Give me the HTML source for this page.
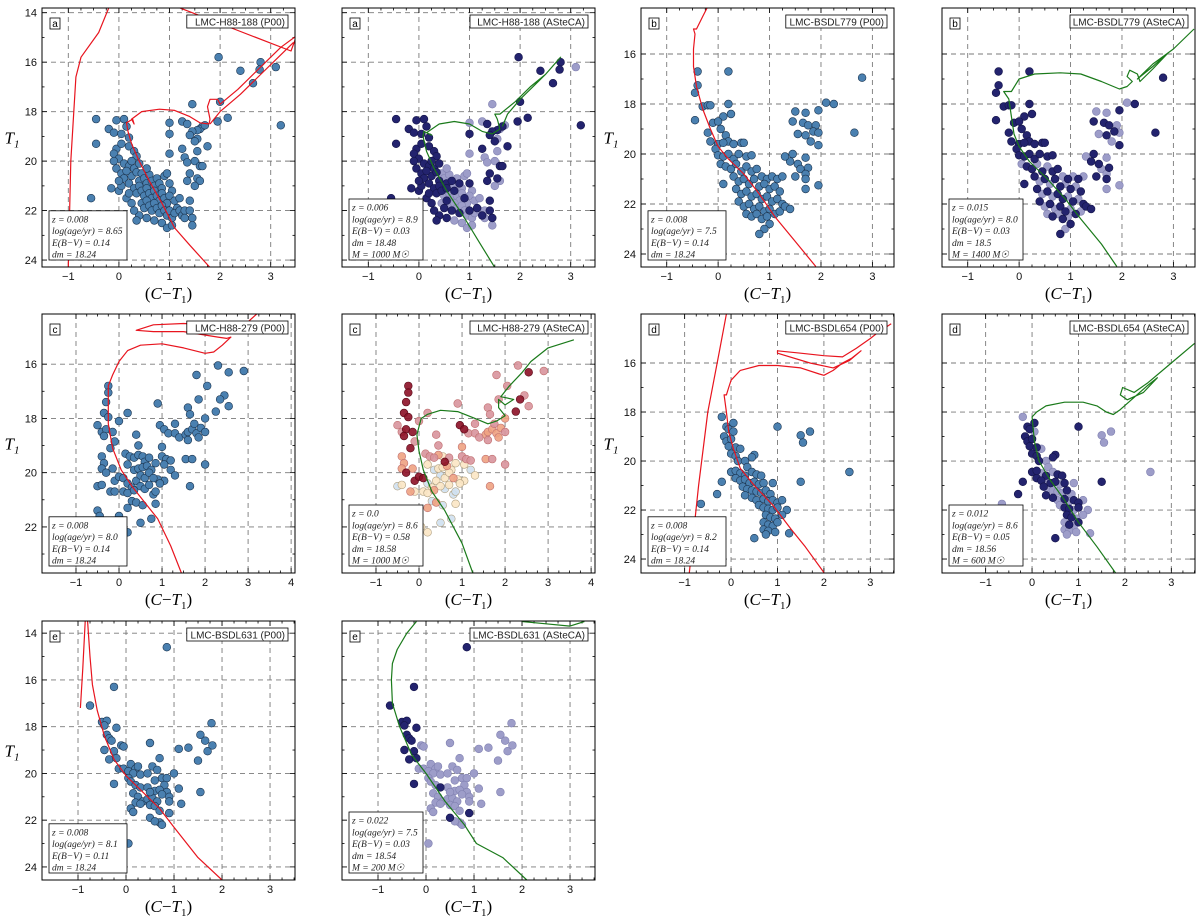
<!DOCTYPE html>
<html><head><meta charset="utf-8"><style>
html,body{margin:0;padding:0;background:#fff;}
svg{display:block;font-family:"Liberation Sans",sans-serif;}
</style></head><body>
<svg id="fig" width="1200" height="921" viewBox="0 0 1200 921" xmlns="http://www.w3.org/2000/svg"></svg>
<script>
// ---------- DATA ----------
const starsA=[[1.97,15.8],[2.4,16.35],[2.8,16.0],[2.78,16.3],[3.1,16.2],[2.65,16.85],[1.45,17.7],[2.0,17.6],[3.2,18.55],[2.15,18.25],[1.95,18.4],[1.65,18.6],[1.6,18.7],[1.55,18.75],[1.7,18.55],[1.45,18.8],[1.4,18.95],[1.25,18.4],[1.35,18.5],[1.0,18.45],[1.0,18.9],[1.55,19.1],[1.5,19.2],[1.55,19.6],[1.75,19.4],[1.25,19.5],[1.3,19.85],[1.5,20.0],[1.6,20.2],[1.65,20.2],[1.35,20.05],[1.0,19.7],[1.4,20.5],[1.55,20.7],[1.6,20.8],[1.35,20.8],[1.5,21.0],
[-0.45,18.3],[-0.2,18.7],[-0.05,18.35],[0.1,18.3],[0.15,18.6],[-0.1,18.85],[0.05,18.9],[0.2,19.05],[-0.45,19.3],[-0.05,19.5],[0.05,19.3],[0.2,19.4],[0.3,19.6],[0.35,19.8],[-0.1,19.7],[0.0,19.9],[0.1,20.1],[-0.05,20.3],[0.05,20.5],[0.2,20.2],
[0.1,20.7],[0.2,20.9],[0.25,20.6],[0.3,20.3],[0.35,20.45],[0.4,20.8],[0.45,20.5],[0.5,20.7],[0.55,20.9],[0.6,20.55],[0.65,20.8],[0.7,21.0],[0.75,20.7],[0.8,20.9],[0.85,21.1],[0.9,20.6],[0.95,20.5],[1.0,20.9],[1.05,21.2],[0.3,21.1],[0.35,21.3],[0.4,21.0],[0.45,21.2],[0.5,21.4],[0.55,21.1],[0.6,21.3],[0.65,21.5],[0.7,21.2],[0.75,21.4],[0.8,21.6],[0.85,21.3],[0.9,21.5],[0.95,21.7],[1.0,21.4],[1.1,21.6],[1.15,21.9],[0.45,21.7],[0.5,21.9],[0.55,21.6],[0.6,21.8],[0.65,22.0],[0.7,21.7],[0.75,21.9],[0.8,22.1],[0.85,21.8],[0.9,22.0],[0.95,22.2],[1.0,22.0],[1.05,22.3],[1.1,22.1],[1.2,22.0],[1.25,22.2],[1.3,22.0],[0.4,22.2],[0.55,22.3],[0.7,22.4],[0.85,22.5],[0.95,22.7],[1.05,22.6],[0.35,22.4],[0.15,21.5],[0.2,21.3],[0.0,21.2],[0.05,21.0],[-0.15,21.1],[-0.55,21.5],[-0.1,20.0],[0.0,20.8],[0.25,21.7],[0.3,22.0],[1.4,22.0],[1.45,22.3],[1.45,22.6],[1.4,21.6],[1.3,22.3],[1.2,21.5],[0.15,20.4],[0.25,20.0],[0.4,20.1],[0.55,20.3]];
const membA="1111010111110101101010101100110011010"+"11111111111111111111"+"1111110010100100010"+"11110100100010001"+"01101001000100010"+"1100001"+"1111111111"+"110100"+"1110";
const starsB=[[-0.45,18.65],[-0.4,16.7],[0.2,16.7],[-0.4,17.25],[-0.45,17.55],[2.8,16.95],[2.65,19.15],[-0.3,18.1],[-0.2,18.05],[-0.15,18.05],[-0.1,18.75],[-0.2,19.15],[-0.15,19.5],[0.2,18.0],[0.25,18.4],[0.1,18.5],[0.0,18.7],[0.05,19.0],[0.15,19.25],[0.2,19.5],[0.3,19.6],[0.45,19.55],[0.5,19.55],[0.0,19.6],[0.1,19.55],[-0.05,19.8],[0.0,20.05],[0.1,20.1],[0.2,20.0],[0.3,20.2],[0.4,20.0],[0.55,20.1],[0.65,20.05],[0.05,20.4],[0.15,20.5],[0.25,20.6],[0.35,20.4],[0.45,20.7],[0.55,20.5],[0.65,20.7],[0.75,20.6],[0.85,20.9],[0.95,21.0],[1.05,20.9],[1.15,21.0],[1.25,20.9],[0.1,21.2],[0.3,20.9],[0.4,21.1],[0.5,21.0],[0.6,21.2],[0.7,21.0],[0.8,21.3],[0.9,21.2],[1.0,21.4],[1.1,21.3],[1.2,21.5],[0.35,21.4],[0.45,21.6],[0.55,21.5],[0.65,21.7],[0.75,21.6],[0.85,21.8],[0.95,21.7],[1.05,21.9],[1.15,21.8],[1.25,22.0],[0.4,21.9],[0.5,22.1],[0.6,22.0],[0.7,22.2],[0.8,22.1],[0.9,22.3],[1.0,22.2],[1.1,22.4],[1.2,22.3],[1.3,22.1],[1.4,22.2],[0.55,22.4],[0.65,22.5],[0.75,22.4],[0.85,22.6],[0.95,22.5],[1.0,22.8],[0.9,23.0],[0.8,23.2],[1.5,18.3],[1.7,18.35],[1.45,18.7],[1.65,18.75],[1.75,18.85],[1.9,18.85],[1.95,18.25],[2.1,17.95],[2.25,18.0],[1.55,19.2],[1.7,19.25],[1.85,19.1],[1.95,19.15],[1.8,19.5],[1.95,19.65],[1.45,20.0],[1.7,20.15],[1.55,20.4],[1.4,20.3],[1.6,20.6],[1.75,20.55],[1.7,20.8],[1.5,20.9],[1.7,21.0],[1.7,21.4],[1.95,21.25],[1.3,20.1]];
const membB="11111111111111111111111111111111101101011010101101011010110101101011010110101101010101001110101011001101101011";
const starsC=[[2.3,16.05],[2.9,16.25],[2.55,16.3],[1.8,16.4],[2.05,16.8],[2.45,17.15],[2.35,17.3],[2.55,17.55],[1.85,17.3],[2.25,17.75],[1.6,17.6],[1.65,17.85],[0.9,17.45],[-0.25,16.8],[-0.25,17.05],[-0.3,17.4],[-0.35,17.8],[-0.25,17.95],[0.2,17.8],[0.0,18.1],[-0.5,18.25],[-0.4,18.5],[-0.3,18.4],[-0.35,18.65],[-0.15,18.5],[-0.2,19.1],[-0.1,18.85],[0.4,18.6],[0.45,19.0],[0.95,18.25],[1.05,18.4],[1.3,18.2],[1.15,18.55],[1.3,18.55],[1.4,18.7],[1.55,18.6],[1.6,18.5],[1.7,18.4],[1.8,18.55],[1.9,18.35],[2.0,18.0],[1.75,18.2],[1.6,18.8],[1.85,18.7],[2.0,18.5],[1.0,19.05],[1.0,19.4],[1.1,19.5],[1.2,19.55],[1.55,19.5],[1.7,19.5],[2.0,19.7],[1.65,20.5],[-0.4,19.4],[-0.35,19.65],[-0.4,19.85],[-0.3,20.0],[-0.15,19.85],[-0.1,20.3],[0.0,20.15],[0.1,20.2],[0.15,19.3],[0.25,19.4],[0.35,19.45],[0.45,19.35],[0.55,19.4],[0.6,19.6],[0.7,19.45],[0.2,19.7],[0.35,19.9],[0.45,19.85],[0.55,19.8],[0.65,19.75],[0.75,19.9],[0.85,19.65],[1.05,19.7],[1.2,19.9],[1.3,20.1],[1.05,20.3],[0.9,20.25],[0.2,20.4],[0.3,20.55],[0.4,20.3],[0.5,20.1],[0.6,20.2],[0.7,20.0],[0.8,20.2],[0.95,20.4],[0.1,20.7],[0.2,20.75],[0.35,20.65],[0.5,20.5],[0.6,20.6],[0.7,20.45],[0.8,20.8],[0.85,20.7],[-0.2,20.7],[-0.1,20.7],[-0.5,20.5],[-0.4,20.45],[0.3,21.05],[0.4,21.1],[0.55,21.2],[0.85,21.15],[0.2,21.3],[0.5,21.85],[0.75,21.7],[0.0,21.6],[-0.5,21.4],[-0.45,21.6],[0.05,22.0],[0.2,22.2]];
const heatC="3343334334333444443333444433344333322222233232333233222242444333214310112111011101101121112101002101020120031111222000101001";
const starsD=[[-0.2,18.2],[0.05,18.45],[1.0,18.6],[-0.1,18.6],[-0.05,18.7],[0.05,18.8],[1.5,18.95],[1.7,18.8],[1.55,19.25],[-0.15,19.0],[-0.1,19.2],[0.0,19.1],[-0.05,19.4],[0.1,19.45],[0.2,19.5],[0.0,19.7],[0.1,19.8],[0.15,20.0],[0.5,19.75],[0.45,19.85],[0.3,20.0],[0.35,20.25],[0.0,20.45],[0.1,20.4],[0.2,20.5],[0.3,20.6],[0.45,20.45],[0.55,20.55],[0.65,20.6],[0.1,20.7],[0.2,20.8],[0.3,20.75],[0.4,20.9],[0.5,20.85],[0.6,20.95],[0.7,20.9],[0.9,20.9],[-0.2,20.85],[1.5,20.85],[2.55,20.45],[0.25,21.05],[0.35,21.15],[0.45,21.2],[0.55,21.25],[0.65,21.3],[0.75,21.2],[0.85,21.35],[0.3,21.4],[0.45,21.5],[0.55,21.6],[0.7,21.55],[0.8,21.65],[0.9,21.6],[1.0,21.7],[1.1,21.6],[-0.3,21.35],[0.6,21.8],[0.7,21.9],[0.8,21.95],[0.9,22.0],[1.0,21.9],[1.2,22.0],[0.75,22.2],[0.85,22.3],[0.95,22.35],[1.1,22.2],[0.7,22.5],[0.8,22.6],[0.9,22.65],[1.0,22.5],[0.7,22.8],[0.8,22.85],[0.75,23.0],[0.95,22.9],[1.25,22.95],[0.5,23.15],[-0.65,21.75]];
const membD="0111100001111101111100110101111011010110100001011010110101101011000101000001";
const starsE=[[0.85,14.6],[-0.25,16.3],[-0.75,17.1],[-0.5,17.8],[-0.4,17.75],[-0.45,17.95],[-0.2,18.05],[-0.4,18.35],[-0.35,18.5],[-0.3,18.6],[-0.45,19.0],[-0.35,19.4],[-0.25,19.05],[-0.1,18.8],[-0.05,18.85],[0.5,18.7],[-0.2,19.35],[-0.15,19.8],[-0.05,19.8],[0.05,19.9],[0.1,19.6],[0.2,19.8],[0.15,20.0],[0.25,19.7],[0.3,20.05],[0.45,20.0],[0.55,19.7],[0.65,19.85],[0.7,19.35],[0.75,20.2],[0.85,20.2],[0.6,20.3],[0.8,20.5],[0.05,20.2],[0.1,20.35],[0.2,20.5],[-0.25,20.45],[0.3,20.6],[0.45,20.6],[0.6,20.75],[0.7,20.7],[0.85,20.8],[1.1,20.65],[0.15,20.85],[0.25,21.0],[0.35,21.2],[0.45,21.1],[0.55,21.05],[0.65,21.2],[0.75,20.9],[0.9,21.0],[0.2,21.25],[0.3,21.3],[0.5,21.35],[0.6,21.4],[0.9,21.2],[1.15,21.3],[0.1,21.5],[0.15,21.65],[0.7,21.6],[0.9,21.7],[0.5,21.9],[0.7,22.1],[0.75,22.2],[0.6,22.05],[0.05,23.0],[1.1,18.95],[1.3,18.9],[1.5,19.45],[1.55,18.35],[1.65,18.6],[1.7,19.05],[1.8,18.8],[1.78,17.85],[1.0,20.0],[1.55,20.8],[0.5,20.8]];
const membE="1111111111111000100000000000000000001100000000000000000000001100000000000000000";

const isoA1=[[[1.8,24.3],[1.4,23.4],[1.1,22.7],[0.85,21.7],[0.6,20.8],[0.4,20.0],[0.25,19.3],[0.18,18.8],[0.15,18.45],[0.27,18.3],[0.3,18.5],[0.25,18.3],[0.45,18.0],[0.8,17.9],[1.1,17.95],[1.4,18.2],[1.6,18.45],[1.78,18.5],[1.8,18.3],[1.75,17.8],[1.8,17.5],[1.95,17.5],[2.0,17.7],[2.35,17.1],[2.8,16.2],[3.2,15.4],[3.5,14.95]],[[1.8,18.5],[2.0,18.0],[2.4,17.3],[2.8,16.5],[3.1,15.9],[3.45,15.2]],[[1.2,13.8],[2.2,14.6],[3.4,15.55],[3.5,15.0]],[[-1.0,24.3],[-0.95,20.0],[-0.85,16.6],[-0.75,15.8],[-0.4,14.8],[-0.2,13.8]]];
const isoA2=[[[1.5,24.3],[1.2,23.3],[0.9,22.3],[0.55,21.2],[0.3,20.3],[0.15,19.6],[0.08,19.0],[0.1,18.8],[0.25,18.95],[0.15,18.85],[0.4,18.5],[0.7,18.4],[1.0,18.5],[1.25,18.8],[1.45,18.9],[1.6,18.7],[1.55,18.3],[1.5,18.1],[1.6,18.1],[1.9,17.6],[2.2,17.0],[2.5,16.5],[2.8,15.8],[2.5,16.5],[2.3,16.9],[2.0,17.5],[1.75,18.1],[1.65,18.6]]];
const isoB1=[[[1.9,24.5],[1.5,23.5],[1.1,22.5],[0.8,21.6],[0.5,20.8],[0.2,20.2],[0.0,19.7],[-0.15,19.0],[-0.3,18.2],[-0.42,17.3],[-0.48,16.5],[-0.48,15.8],[-0.45,15.2],[-0.48,15.0],[-0.42,15.0],[-0.3,14.5],[-0.2,14.1]]];
const isoB2=[[[1.9,24.5],[1.6,23.6],[1.2,22.6],[0.9,21.8],[0.55,21.0],[0.2,20.3],[0.0,19.7],[-0.1,19.2],[-0.15,18.5],[-0.2,17.8],[-0.3,17.5],[-0.15,17.5],[0.0,17.0],[0.3,16.8],[0.8,16.75],[1.2,16.8],[1.6,17.1],[1.95,17.4],[2.1,17.3],[2.2,17.1],[2.1,16.9],[2.15,16.65],[2.3,16.8],[2.35,17.1],[2.6,16.6],[2.9,15.95],[2.6,16.5],[2.3,17.0],[2.6,16.4],[3.0,15.8],[3.4,15.0]]];
const isoC1=[[[1.45,23.7],[1.2,22.7],[0.9,21.7],[0.6,21.1],[0.3,20.5],[0.05,19.9],[-0.15,19.1],[-0.25,18.2],[-0.25,17.3],[-0.25,16.8],[-0.15,16.4],[0.0,15.9],[0.2,15.5],[0.5,15.3],[1.0,15.25],[1.5,15.4],[2.0,15.6],[2.2,15.55],[2.4,15.3],[2.6,15.0],[2.5,15.05],[2.3,15.0],[1.5,14.8],[0.8,14.8],[0.4,14.75],[0.8,14.55],[1.5,14.5],[2.0,14.55],[2.5,14.8],[2.85,14.65],[3.2,14.15]]];
const isoC2=[[[1.25,23.7],[1.0,22.6],[0.6,21.4],[0.3,20.7],[0.1,19.9],[0.0,19.2],[-0.05,18.6],[0.05,18.0],[0.1,17.95],[0.2,17.85],[0.5,17.7],[0.9,17.75],[1.3,18.0],[1.6,18.2],[1.8,18.1],[2.0,17.9],[1.85,17.6],[1.85,17.3],[2.0,17.5],[2.2,17.3],[1.9,17.2],[2.1,16.8],[2.4,16.3],[2.6,15.9],[3.0,15.4],[3.6,15.1]]];
const isoD1=[[[2.0,24.55],[1.6,23.5],[1.3,22.8],[0.9,21.8],[0.5,21.0],[0.2,20.3],[0.05,19.5],[-0.05,18.8],[-0.1,18.0],[-0.15,17.3],[-0.1,17.3],[-0.05,17.0],[0.0,16.7],[0.2,16.3],[0.6,16.1],[1.0,16.1],[1.5,16.2],[1.9,16.45],[2.0,16.5],[2.2,16.3],[2.4,16.0],[2.6,15.8],[2.8,15.5],[2.55,15.9],[2.2,16.2],[1.7,16.0],[1.0,15.6],[1.0,15.5],[1.5,15.6],[2.0,15.7],[2.4,15.75],[2.7,15.4],[3.0,15.0],[3.2,14.7],[3.45,14.4]],[[-0.9,24.57],[-0.7,21.0],[-0.5,18.0],[-0.25,15.5],[-0.1,14.0]]];
const isoD2=[[[1.8,24.57],[1.4,23.5],[1.0,22.5],[0.7,21.6],[0.4,20.8],[0.15,20.0],[0.05,19.2],[0.0,18.2],[0.1,18.0],[0.3,17.75],[0.7,17.6],[1.1,17.6],[1.4,17.75],[1.6,18.0],[1.75,18.1],[1.9,17.9],[2.2,17.4],[2.5,16.9],[2.7,16.6],[2.4,17.2],[2.05,17.5],[1.9,17.3],[1.95,17.0],[2.2,17.2],[2.5,16.8],[3.0,16.0],[3.5,15.2]]];
const isoE1=[[[2.0,24.56],[1.5,23.6],[1.0,22.3],[0.7,21.5],[0.4,20.9],[0.0,20.1],[-0.25,19.4],[-0.45,18.4],[-0.6,17.3],[-0.7,16.2],[-0.75,15.0],[-0.8,13.5]],[[-0.95,17.2],[-0.9,15.5],[-0.85,13.5]]];
const isoE2=[[[2.1,24.56],[1.6,23.6],[1.05,23.0],[0.8,22.2],[0.4,21.2],[0.0,20.0],[-0.3,19.2],[-0.55,18.0],[-0.7,17.0],[-0.72,16.0],[-0.7,15.3],[-0.6,14.7],[-0.4,14.0],[-0.2,13.5]],[[2.0,13.5],[2.5,13.6],[3.0,13.7],[3.3,13.5]]];

const xTicksA=[-1,0,1,2,3], yTicksA=[14,16,18,20,22,24];
const xTicksC=[-1,0,1,2,3,4], yTicksB=[16,18,20,22,24], yTicksC=[16,18,20,22];

// ---------- LAYOUT ----------
const COLS=[42,342,641,942], ROWS=[8,314,621], W=253, H=259;
const panels=[
 {id:'a-p00',c:0,r:0,xr:[-1.52,3.48],yr:[13.81,24.28],xt:xTicksA,yt:yTicksA,yl:true,stars:starsA,mode:'p',iso:isoA1,ic:'#e8141e',letter:'a',title:'LMC-H88-188 (P00)',leg:['z = 0.008','log(age/yr) = 8.65','E(B−V) = 0.14','dm = 18.24']},
 {id:'a-asteca',c:1,r:0,xr:[-1.52,3.48],yr:[13.81,24.28],xt:xTicksA,yt:yTicksA,yl:false,stars:starsA,mode:'m',memb:membA,iso:isoA2,ic:'#1a7a1a',letter:'a',title:'LMC-H88-188 (ASteCA)',leg:['z = 0.006','log(age/yr) = 8.9','E(B−V) = 0.03','dm = 18.48','M = 1000 M☉']},
 {id:'b-p00',c:2,r:0,xr:[-1.5,3.42],yr:[14.16,24.52],xt:xTicksA,yt:yTicksB,yl:true,stars:starsB,mode:'p',iso:isoB1,ic:'#e8141e',letter:'b',title:'LMC-BSDL779 (P00)',leg:['z = 0.008','log(age/yr) = 7.5','E(B−V) = 0.14','dm = 18.24']},
 {id:'b-asteca',c:3,r:0,xr:[-1.5,3.42],yr:[14.16,24.52],xt:xTicksA,yt:yTicksB,yl:false,stars:starsB,mode:'m',memb:membB,iso:isoB2,ic:'#1a7a1a',letter:'b',title:'LMC-BSDL779 (ASteCA)',leg:['z = 0.015','log(age/yr) = 8.0','E(B−V) = 0.03','dm = 18.5','M = 1400 M☉']},
 {id:'c-p00',c:0,r:1,xr:[-1.79,4.09],yr:[14.15,23.7],xt:xTicksC,yt:yTicksC,yl:true,stars:starsC,mode:'p',iso:isoC1,ic:'#e8141e',letter:'c',title:'LMC-H88-279 (P00)',leg:['z = 0.008','log(age/yr) = 8.0','E(B−V) = 0.14','dm = 18.24']},
 {id:'c-asteca',c:1,r:1,xr:[-1.79,4.09],yr:[14.15,23.7],xt:xTicksC,yt:yTicksC,yl:false,stars:starsC,mode:'h',memb:heatC,iso:isoC2,ic:'#1a7a1a',letter:'c',title:'LMC-H88-279 (ASteCA)',leg:['z = 0.0','log(age/yr) = 8.6','E(B−V) = 0.58','dm = 18.58','M = 1000 M☉']},
 {id:'d-p00',c:2,r:1,xr:[-1.94,3.51],yr:[14.0,24.57],xt:xTicksA,yt:yTicksB,yl:true,stars:starsD,mode:'p',iso:isoD1,ic:'#e8141e',letter:'d',title:'LMC-BSDL654 (P00)',leg:['z = 0.008','log(age/yr) = 8.2','E(B−V) = 0.14','dm = 18.24']},
 {id:'d-asteca',c:3,r:1,xr:[-1.94,3.51],yr:[14.0,24.57],xt:xTicksA,yt:yTicksB,yl:false,stars:starsD,mode:'m',memb:membD,iso:isoD2,ic:'#1a7a1a',letter:'d',title:'LMC-BSDL654 (ASteCA)',leg:['z = 0.012','log(age/yr) = 8.6','E(B−V) = 0.05','dm = 18.56','M = 600 M☉']},
 {id:'e-p00',c:0,r:2,xr:[-1.75,3.52],yr:[13.48,24.56],xt:xTicksA,yt:yTicksA,yl:true,stars:starsE,mode:'p',iso:isoE1,ic:'#e8141e',letter:'e',title:'LMC-BSDL631 (P00)',leg:['z = 0.008','log(age/yr) = 8.1','E(B−V) = 0.11','dm = 18.24']},
 {id:'e-asteca',c:1,r:2,xr:[-1.75,3.52],yr:[13.48,24.56],xt:xTicksA,yt:yTicksA,yl:false,stars:starsE,mode:'m',memb:membE,iso:isoE2,ic:'#1a7a1a',letter:'e',title:'LMC-BSDL631 (ASteCA)',leg:['z = 0.022','log(age/yr) = 7.5','E(B−V) = 0.03','dm = 18.54','M = 200 M☉']}
];
const heatColors={'4':'#8c1026','3':'#d8949c','2':'#eea282','1':'#fbe6c4','0':'#cfe0f0'};

const NS='http://www.w3.org/2000/svg';
const svg=document.getElementById('fig');
function mk(tag,attrs,parent){const e=document.createElementNS(NS,tag);for(const k in attrs)e.setAttribute(k,attrs[k]);(parent||svg).appendChild(e);return e;}

panels.forEach(p=>{
 const X0=COLS[p.c], Y0=ROWS[p.r];
 const sx=v=>X0+(v-p.xr[0])/(p.xr[1]-p.xr[0])*W;
 const sy=v=>Y0+(v-p.yr[0])/(p.yr[1]-p.yr[0])*H;
 const g=mk('g',{});
 
 
 const cid='clip-'+p.id;
 const cp=mk('clipPath',{id:cid},g); mk('rect',{x:X0,y:Y0,width:W,height:H},cp);
 const grid=mk('g',{stroke:'#7a7a7a','stroke-width':0.9,'stroke-dasharray':'5,4'},g);
 
 
 p.xt.forEach(t=>{const x=sx(t);mk('line',{x1:x,x2:x,y1:Y0,y2:Y0+H},grid);});
 p.yt.forEach(t=>{const y=sy(t);mk('line',{x1:X0,x2:X0+W,y1:y,y2:y},grid);});
 const tk=mk('g',{stroke:'#000','stroke-width':0.8},g);
 p.xt.forEach(t=>{const x=sx(t);mk('line',{x1:x,x2:x,y1:Y0,y2:Y0+5},tk);mk('line',{x1:x,x2:x,y1:Y0+H,y2:Y0+H-5},tk);
   for(let k=1;k<4;k++){const xm=sx(t+k*0.25);if(xm<X0+W)mk('line',{x1:xm,x2:xm,y1:Y0+H,y2:Y0+H-2.5},tk),mk('line',{x1:xm,x2:xm,y1:Y0,y2:Y0+2.5},tk);}});
 p.yt.forEach(t=>{const y=sy(t);mk('line',{x1:X0,x2:X0+5,y1:y,y2:y},tk);mk('line',{x1:X0+W,x2:X0+W-5,y1:y,y2:y},tk);
   const ym=sy(t+1);if(ym<Y0+H)mk('line',{x1:X0,x2:X0+2.5,y1:ym,y2:ym},tk),mk('line',{x1:X0+W,x2:X0+W-2.5,y1:ym,y2:ym},tk);});
 const sg=mk('g',{'clip-path':'url(#'+cid+')'},g);
 
 
 const order=p.stars.map((s,i)=>i);
 if(p.mode!=='p') order.sort((a,b)=>(p.memb.charAt(a)||'0')-(p.memb.charAt(b)||'0'));
 order.forEach(i=>{const s=p.stars[i];let fill='#4a80b0',stroke='#1c3550',op=1;
   if(p.mode==='m'){const m=p.memb.charAt(i)==='1';fill=m?'#23236e':'#9d9dc9';stroke=m?'#15154a':'#8080b0';}
   if(p.mode==='h'){const k=p.memb.charAt(i)||'0';fill=heatColors[k];stroke=k==='4'?'#5a0a18':(k==='1'||k==='0'?'#b0a080':'#c07070');op=0.9;}
   const c=mk('circle',{cx:sx(s[0]).toFixed(1),cy:sy(s[1]).toFixed(1),r:3.9,fill:fill,stroke:stroke,'stroke-width':0.6,'fill-opacity':op},sg);
   
   });
 p.iso.forEach(seg=>{const pl=mk('polyline',{points:seg.map(q=>sx(q[0]).toFixed(1)+','+sy(q[1]).toFixed(1)).join(' '),fill:'none',stroke:p.ic,'stroke-width':1.2,'stroke-linejoin':'round','clip-path':'url(#'+cid+')'},g);
   
   });
 const fr=mk('rect',{x:X0,y:Y0,width:W,height:H,fill:'none',stroke:'#000','stroke-width':1},g);
 
 
 p.xt.forEach(t=>{const tx=mk('text',{x:sx(t),y:Y0+H+13,'font-size':11,'text-anchor':'middle',fill:'#111'},g);tx.textContent=t<0?'−'+(-t):String(t);
   
   });
 if(p.yl){p.yt.forEach(t=>{const tx=mk('text',{x:X0-5,y:sy(t)+4,'font-size':11,'text-anchor':'end',fill:'#111'},g);tx.textContent=String(t);
   
   });
  const yt=mk('text',{x:X0-30,y:Y0+H/2+6,'font-size':17,'font-style':'italic','font-family':'Liberation Serif,serif','text-anchor':'middle'},g);
  yt.innerHTML='T<tspan font-size="11" dy="4">1</tspan>';
  
  }
 const xtl=mk('text',{x:X0+W/2,y:Y0+H+32,'font-size':17,'font-family':'Liberation Serif,serif','text-anchor':'middle'},g);
 xtl.innerHTML='(<tspan font-style="italic">C</tspan>−<tspan font-style="italic">T</tspan><tspan font-size="11" dy="4">1</tspan><tspan dy="-4">)</tspan>';
 
 
 const lb=mk('g',{},g);
 
 
 mk('rect',{x:X0+8,y:Y0+10,width:10,height:11,fill:'#fff',stroke:'#000','stroke-width':0.8},lb);
 const lt=mk('text',{x:X0+13,y:Y0+19,'font-size':10,'text-anchor':'middle'},lb);lt.textContent=p.letter;
 const tb=mk('g',{},g);
 
 
 const tw=p.title.length*5.6+6;
 mk('rect',{x:X0+W-7-tw,y:Y0+7,width:tw,height:13,fill:'#fff',stroke:'#000','stroke-width':0.8},tb);
 const tt=mk('text',{x:X0+W-10,y:Y0+17.5,'font-size':10,'text-anchor':'end',fill:'#222'},tb);tt.textContent=p.title;
 const n=p.leg.length, lh=11.8;
 const lgb=mk('g',{},g);
 
 
 const bw=n===4?78:74;
 mk('rect',{x:X0+7,y:Y0+H-7-n*lh-2,width:bw,height:n*lh+2,fill:'#fff',stroke:'#000','stroke-width':0.8},lgb);
 p.leg.forEach((l,i)=>{const t=mk('text',{x:X0+10,y:Y0+H-7-n*lh+i*lh+9.5,'font-size':9.5,'font-style':'italic','font-family':'Liberation Serif,serif',fill:'#222'},lgb);t.textContent=l;});
});
</script>
</body></html>
